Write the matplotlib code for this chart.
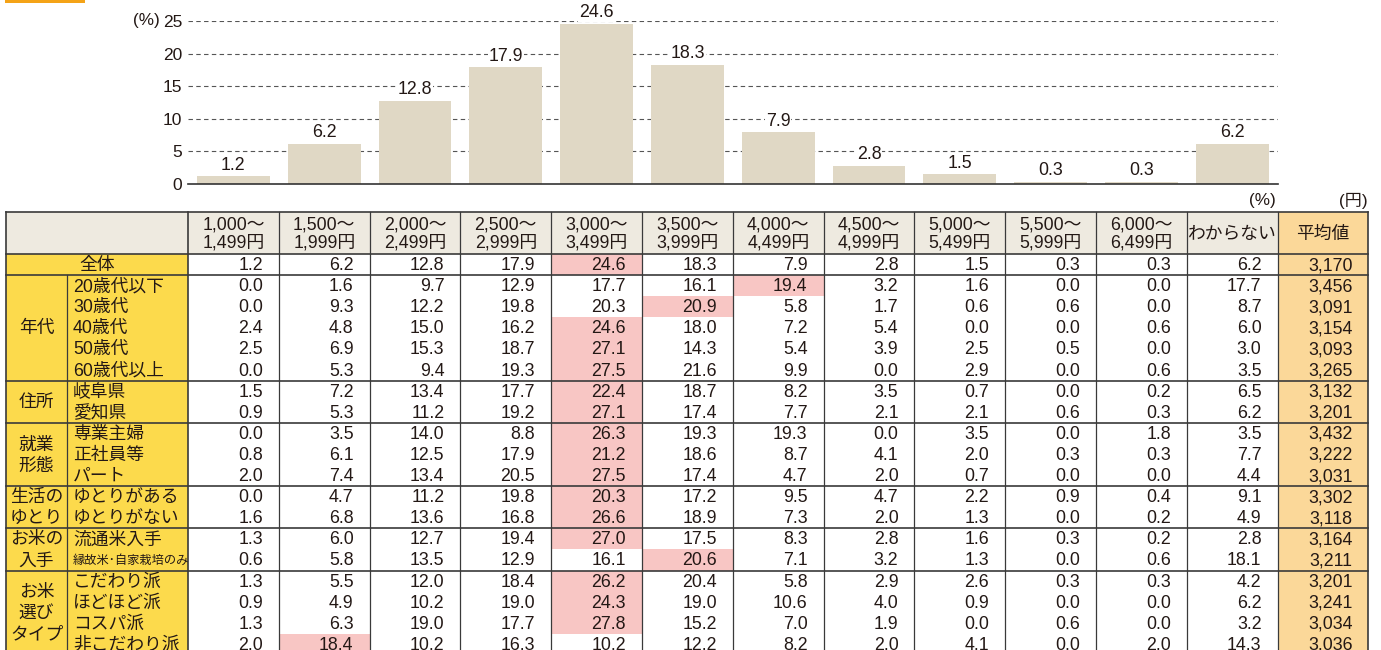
import matplotlib
matplotlib.use("Agg")
import matplotlib.pyplot as plt
from matplotlib.patches import Rectangle

plt.rcParams['font.family'] = ['Liberation Sans', 'Noto Sans CJK JP', 'DejaVu Sans']

# === Données ===
bins = ["1,000～\n1,499円", "1,500～\n1,999円", "2,000～\n2,499円", "2,500～\n2,999円",
        "3,000～\n3,499円", "3,500～\n3,999円", "4,000～\n4,499円", "4,500～\n4,999円",
        "5,000～\n5,499円", "5,500～\n5,999円", "6,000～\n6,499円", "わからない"]
avg_header = "平均値"

overall = [1.2, 6.2, 12.8, 17.9, 24.6, 18.3, 7.9, 2.8, 1.5, 0.3, 0.3, 6.2]
overall_avg = "3,170"

groups = ["年代", "住所", "就業\n形態", "生活の\nゆとり", "お米の\n入手", "お米\n選び\nタイプ"]
group_sizes = [5, 2, 3, 2, 2, 4]

row_labels = ["20歳代以下", "30歳代", "40歳代", "50歳代", "60歳代以上",
              "岐阜県", "愛知県",
              "専業主婦", "正社員等", "パート",
              "ゆとりがある", "ゆとりがない",
              "流通米入手", "縁故米･自家栽培のみ",
              "こだわり派", "ほどほど派", "コスパ派", "非こだわり派"]
row_values = [
    [0.0, 1.6, 9.7, 12.9, 17.7, 16.1, 19.4, 3.2, 1.6, 0.0, 0.0, 17.7],
    [0.0, 9.3, 12.2, 19.8, 20.3, 20.9, 5.8, 1.7, 0.6, 0.6, 0.0, 8.7],
    [2.4, 4.8, 15.0, 16.2, 24.6, 18.0, 7.2, 5.4, 0.0, 0.0, 0.6, 6.0],
    [2.5, 6.9, 15.3, 18.7, 27.1, 14.3, 5.4, 3.9, 2.5, 0.5, 0.0, 3.0],
    [0.0, 5.3, 9.4, 19.3, 27.5, 21.6, 9.9, 0.0, 2.9, 0.0, 0.6, 3.5],
    [1.5, 7.2, 13.4, 17.7, 22.4, 18.7, 8.2, 3.5, 0.7, 0.0, 0.2, 6.5],
    [0.9, 5.3, 11.2, 19.2, 27.1, 17.4, 7.7, 2.1, 2.1, 0.6, 0.3, 6.2],
    [0.0, 3.5, 14.0, 8.8, 26.3, 19.3, 19.3, 0.0, 3.5, 0.0, 1.8, 3.5],
    [0.8, 6.1, 12.5, 17.9, 21.2, 18.6, 8.7, 4.1, 2.0, 0.3, 0.3, 7.7],
    [2.0, 7.4, 13.4, 20.5, 27.5, 17.4, 4.7, 2.0, 0.7, 0.0, 0.0, 4.4],
    [0.0, 4.7, 11.2, 19.8, 20.3, 17.2, 9.5, 4.7, 2.2, 0.9, 0.4, 9.1],
    [1.6, 6.8, 13.6, 16.8, 26.6, 18.9, 7.3, 2.0, 1.3, 0.0, 0.2, 4.9],
    [1.3, 6.0, 12.7, 19.4, 27.0, 17.5, 8.3, 2.8, 1.6, 0.3, 0.2, 2.8],
    [0.6, 5.8, 13.5, 12.9, 16.1, 20.6, 7.1, 3.2, 1.3, 0.0, 0.6, 18.1],
    [1.3, 5.5, 12.0, 18.4, 26.2, 20.4, 5.8, 2.9, 2.6, 0.3, 0.3, 4.2],
    [0.9, 4.9, 10.2, 19.0, 24.3, 19.0, 10.6, 4.0, 0.9, 0.0, 0.0, 6.2],
    [1.3, 6.3, 19.0, 17.7, 27.8, 15.2, 7.0, 1.9, 0.0, 0.6, 0.0, 3.2],
    [2.0, 18.4, 10.2, 16.3, 10.2, 12.2, 8.2, 2.0, 4.1, 0.0, 2.0, 14.3],
]
row_avg = ["3,456", "3,091", "3,154", "3,093", "3,265", "3,132", "3,201",
           "3,432", "3,222", "3,031", "3,302", "3,118", "3,164", "3,211",
           "3,201", "3,241", "3,034", "3,036"]

# === Style ===
W, H = 1381, 650
TXT = "#231815"
BAR = "#e0d8c5"
HDR_BG = "#eeeae0"
YELLOW = "#fcda4c"
ORANGE = "#fbd899"
PINK = "#f8c6c4"
LINE = "#3a3a3a"

TBL_L, GRP_R, DATA_L, COL_W = 6, 67, 188, 90.8
HDR_T, HDR_B, ROW_H = 212, 254, 21.1
FS = 12.8

fig = plt.figure(figsize=(W / 100, H / 100), dpi=100)

# --- axes "pixels" pour le tableau ---
tb = fig.add_axes([0, 0, 1, 1])
tb.set_xlim(0, W)
tb.set_ylim(H, 0)
tb.axis("off")

ncol = len(bins) + 1
TBL_R = DATA_L + ncol * COL_W
nrows = 1 + len(row_labels)
TBL_B = HDR_B + nrows * ROW_H

# petit trait orange en haut
tb.add_patch(Rectangle((5, 0), 80, 2.5, color="#f4a317", lw=0))

# fonds
tb.add_patch(Rectangle((TBL_L, HDR_T), TBL_R - TBL_L, HDR_B - HDR_T, color=HDR_BG, lw=0))
tb.add_patch(Rectangle((TBL_L, HDR_B), DATA_L - TBL_L, TBL_B - HDR_B, color=YELLOW, lw=0))
avg_x = DATA_L + len(bins) * COL_W
tb.add_patch(Rectangle((avg_x, HDR_T), COL_W, TBL_B - HDR_T, color=ORANGE, lw=0))

all_rows = [overall] + row_values
for r, vals in enumerate(all_rows):
    top = HDR_B + r * ROW_H
    k = max(range(11), key=lambda i: vals[i])
    tb.add_patch(Rectangle((DATA_L + k * COL_W, top), COL_W, ROW_H, color=PINK, lw=0))
    for c, v in enumerate(vals):
        tb.text(DATA_L + (c + 1) * COL_W - 16, top + ROW_H / 2 + 1, f"{v:.1f}",
                ha="right", va="center", fontsize=FS, color=TXT)
    a = overall_avg if r == 0 else row_avg[r - 1]
    tb.text(avg_x + COL_W - 16, top + ROW_H / 2 + 1, a,
            ha="right", va="center", fontsize=FS, color=TXT)

# en-têtes
for c, lab in enumerate(bins + [avg_header]):
    tb.text(DATA_L + (c + 0.5) * COL_W, (HDR_T + HDR_B) / 2 + 1, lab, ha="center", va="center",
            fontsize=FS, color=TXT, linespacing=1.0)

# libellés de lignes
tb.text((TBL_L + DATA_L) / 2, HDR_B + ROW_H / 2 + 1, "全体", ha="center", va="center",
        fontsize=FS, color=TXT)
for i, lab in enumerate(row_labels):
    fs = 8.8 if len(lab) > 8 else FS
    tb.text(GRP_R + 6, HDR_B + (i + 1.5) * ROW_H + 1, lab, ha="left", va="center",
            fontsize=fs, color=TXT)

start = 1
seps = [HDR_T, HDR_B, HDR_B + ROW_H]
for g, n in zip(groups, group_sizes):
    y0 = HDR_B + start * ROW_H
    y1 = y0 + n * ROW_H
    tb.text((TBL_L + GRP_R) / 2, (y0 + y1) / 2 + 1, g, ha="center", va="center",
            fontsize=FS, color=TXT, linespacing=1.3)
    seps.append(y1)
    start += n

# traits
for y in seps:
    if y <= TBL_B:
        tb.plot([TBL_L, TBL_R], [y, y], color=LINE, lw=1.2)
for c in range(ncol + 1):
    x = DATA_L + c * COL_W
    tb.plot([x, x], [HDR_T, TBL_B], color=LINE, lw=1.2 if c in (0, ncol) else 0.9)
tb.plot([TBL_L, TBL_L], [HDR_T, TBL_B], color=LINE, lw=1.2)
tb.plot([GRP_R, GRP_R], [HDR_B + ROW_H, TBL_B], color=LINE, lw=0.9)

tb.text(avg_x - 2, 201, "(%)", ha="right", va="center", fontsize=FS - 0.5, color=TXT)
tb.text(TBL_R - 1, 201, "(円)", ha="right", va="center", fontsize=FS - 0.5, color=TXT)
tb.text(160, 21, "(%)", ha="right", va="center", fontsize=FS - 0.5, color=TXT)

# --- graphique en barres ---
ax = fig.add_axes([DATA_L / W, 1 - 184 / H, (avg_x - DATA_L) / W, (184 - 21) / H])
ax.patch.set_alpha(0)
xs = list(range(len(overall)))
ax.bar(xs, overall, width=0.8, color=BAR, zorder=2)
ax.set_xlim(-0.5, len(overall) - 0.5)
ax.set_ylim(0, 25)
ax.set_yticks([0, 5, 10, 15, 20, 25])
ax.tick_params(axis="y", length=0, pad=4, labelsize=FS - 0.3, labelcolor=TXT)
ax.set_xticks([])
for s in ["left", "right", "top"]:
    ax.spines[s].set_visible(False)
ax.spines["bottom"].set_color("#333333")
ax.spines["bottom"].set_linewidth(1.2)
ax.spines["bottom"].set_zorder(3)
for yv in [5, 10, 15, 20, 25]:
    ax.axhline(yv, color="#555555", lw=0.8, ls=(0, (4, 3)), zorder=1)
for x, v in zip(xs, overall):
    ax.annotate(f"{v:.1f}", (x, v), xytext=(0, 8), textcoords="offset points",
                ha="center", va="center", fontsize=FS, color=TXT, zorder=4,
                annotation_clip=False,
                bbox=dict(boxstyle="square,pad=0.05", fc="white", ec="none"))

fig.savefig("out.png", dpi=100)
